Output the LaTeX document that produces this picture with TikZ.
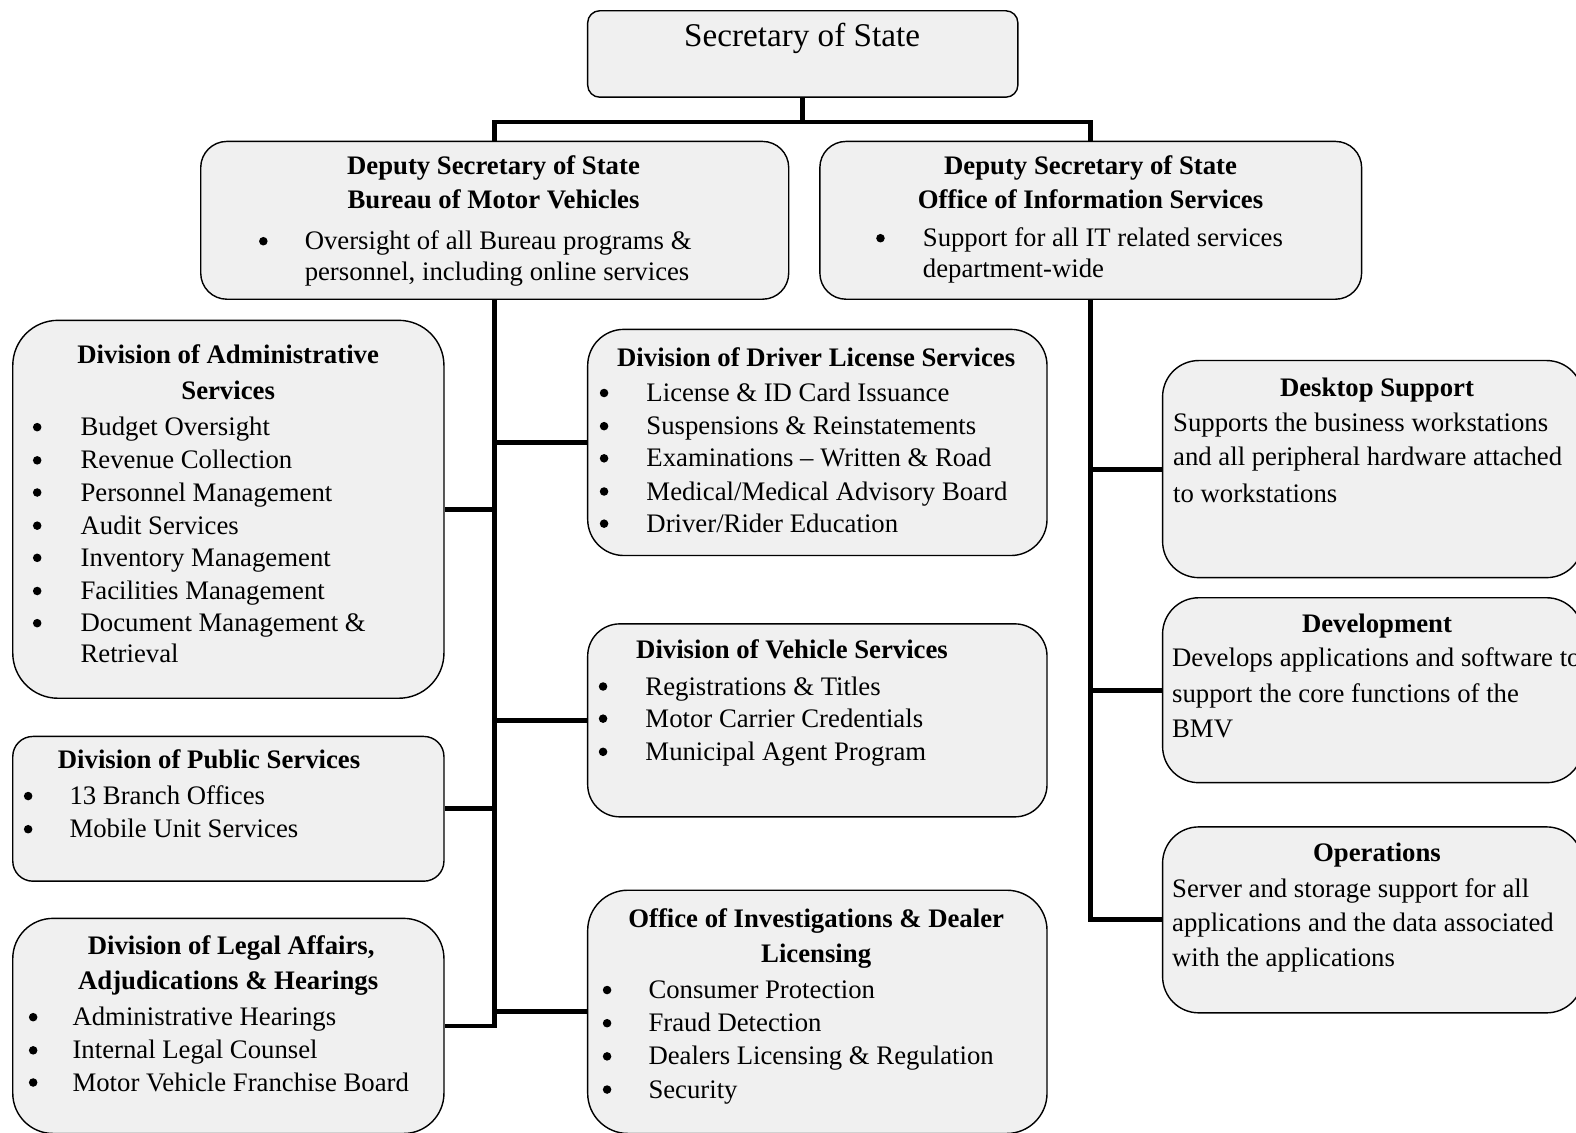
\documentclass[tikz,border=0pt]{standalone}
\usepackage{fontspec}
\setmainfont{Liberation Serif}
\definecolor{boxgray}{HTML}{F0F0F0}
\newcommand\bodyfont{\fontsize{26.6}{31}\selectfont}
\newcommand\boldfont{\fontsize{26.6}{31}\selectfont\bfseries}
\newcommand\sosfont{\fontsize{33}{38}\selectfont}
\newcommand\bitem[5]{\node[bul] (#1b) at (#2,#4) {}; \node[tx] (#1) at (#3,#4+8.5) {#5};}
\newcommand\pline[4]{\node[tx] (#1) at (#2,#3+8.5) {#4};}
\newcommand\tline[4]{\node[ttl] (#1) at (#2,#3+8.5) {#4};}
\begin{document}
\begin{tikzpicture}[x=1pt,y=-1pt,
  box/.style={draw, line width=1.4pt, fill=boxgray, anchor=north west, inner sep=0pt},
  conn/.style={line width=4.8pt},
  tx/.style={anchor=base west, inner sep=0pt, font=\bodyfont},
  bul/.style={circle, fill=black, inner sep=0pt, minimum size=8.5pt},
  ttl/.style={anchor=base, inner sep=0pt, font=\boldfont}]
\useasboundingbox (0,0) rectangle (1568,1127);
% boxes
\node[box, rounded corners=12pt, minimum width=428pt, minimum height=86pt] (sos) at (584,10) {};
\node[box, rounded corners=26pt, minimum width=585pt, minimum height=157pt] (bmv) at (199,140) {};
\node[box, rounded corners=26pt, minimum width=539pt, minimum height=157pt] (ois) at (815,140) {};
\node[box, rounded corners=45pt, minimum width=429pt, minimum height=376pt] (admin) at (12,318) {};
\node[box, rounded corners=20pt, minimum width=429pt, minimum height=144pt] (pub) at (12,732) {};
\node[box, rounded corners=40pt, minimum width=429pt, minimum height=214pt] (legal) at (12,913) {};
\node[box, rounded corners=36pt, minimum width=457pt, minimum height=225pt] (dls) at (584,327) {};
\node[box, rounded corners=32pt, minimum width=457pt, minimum height=192pt] (veh) at (584,620) {};
\node[box, rounded corners=40pt, minimum width=457pt, minimum height=242pt] (inv) at (584,885) {};
\node[box, rounded corners=36pt, minimum width=418pt, minimum height=216pt] (desk) at (1156,358) {};
\node[box, rounded corners=36pt, minimum width=418pt, minimum height=184pt] (dev) at (1156,594) {};
\node[box, rounded corners=36pt, minimum width=418pt, minimum height=185pt] (ops) at (1156,822) {};
% connectors
\draw[conn] (sos.south) -- ++(0,24) coordinate (j);
\draw[conn] (bmv.north) |- (j) -| (ois.north);
\draw[conn] (bmv.south) |- (legal.east);
\draw[conn] (bmv.south |- admin.east) -- (admin.east);
\draw[conn] (bmv.south |- pub.east) -- (pub.east);
\draw[conn] (bmv.south |- dls.west) -- (dls.west);
\draw[conn] (bmv.south |- veh.west) -- (veh.west);
\draw[conn] (bmv.south |- inv.west) -- (inv.west);
\draw[conn] (ois.south) |- (ops.west);
\draw[conn] (ois.south |- desk.west) -- (desk.west);
\draw[conn] (ois.south |- dev.west) -- (dev.west);
% texts
\node[anchor=base, inner sep=0pt, font=\sosfont] (sost) at (798,46) {Secretary of State};
\tline{bmv1}{491}{165}{Deputy Secretary of State}
\tline{bmv2}{491}{199}{Bureau of Motor Vehicles}
\bitem{bmv3}{262}{303}{240}{Oversight of all Bureau programs \&}
\pline{bmv4}{303}{271}{personnel, including online services}
\tline{ois1}{1085}{165}{Deputy Secretary of State}
\tline{ois2}{1085}{199}{Office of Information Services}
\bitem{ois3}{876}{918}{237}{Support for all IT related services}
\pline{ois4}{918}{268}{department-wide}
\tline{adm1}{227}{353}{Division of Administrative}
\tline{adm2}{227}{389}{Services}
\bitem{adm3}{37}{80}{425}{Budget Oversight}
\bitem{adm4}{37}{80}{458}{Revenue Collection}
\bitem{adm5}{37}{80}{490}{Personnel Management}
\bitem{adm6}{37}{80}{523}{Audit Services}
\bitem{adm7}{37}{80}{555}{Inventory Management}
\bitem{adm8}{37}{80}{588}{Facilities Management}
\bitem{adm9}{37}{80}{620}{Document Management \&}
\pline{adm10}{80}{651}{Retrieval}
\tline{pub1}{208}{756}{Division of Public Services}
\bitem{pub2}{28}{69}{792}{13 Branch Offices}
\bitem{pub3}{28}{69}{825}{Mobile Unit Services}
\tline{leg1}{230}{941}{Division of Legal Affairs,}
\tline{leg2}{227}{976}{Adjudications \& Hearings}
\bitem{leg3}{33}{72}{1012}{Administrative Hearings}
\bitem{leg4}{33}{72}{1045}{Internal Legal Counsel}
\bitem{leg5}{33}{72}{1077}{Motor Vehicle Franchise Board}
\tline{dls1}{812}{356}{Division of Driver License Services}
\bitem{dls2}{601}{643}{391}{License \& ID Card Issuance}
\bitem{dls3}{601}{643}{424}{Suspensions \& Reinstatements}
\bitem{dls4}{601}{643}{456}{Examinations – Written \& Road}
\bitem{dls5}{601}{643}{489}{Medical/Medical Advisory Board}
\bitem{dls6}{601}{643}{521}{Driver/Rider Education}
\tline{veh1}{788}{647}{Division of Vehicle Services}
\bitem{veh2}{600}{642}{683}{Registrations \& Titles}
\bitem{veh3}{600}{642}{715}{Motor Carrier Credentials}
\bitem{veh4}{600}{642}{748}{Municipal Agent Program}
\tline{inv1}{812}{914}{Office of Investigations \& Dealer}
\tline{inv2}{812}{949}{Licensing}
\bitem{inv3}{604}{645}{985}{Consumer Protection}
\bitem{inv4}{604}{645}{1018}{Fraud Detection}
\bitem{inv5}{604}{645}{1051}{Dealers Licensing \& Regulation}
\bitem{inv6}{604}{645}{1084}{Security}
\tline{desk1}{1370}{386}{Desktop Support}
\pline{desk2}{1167}{421}{Supports the business workstations}
\pline{desk3}{1167}{455}{and all peripheral hardware attached}
\pline{desk4}{1167}{491}{to workstations}
\tline{dev1}{1370}{621}{Development}
\pline{dev2}{1166}{655}{Develops applications and software to}
\pline{dev3}{1166}{690}{support the core functions of the}
\pline{dev4}{1166}{725}{BMV}
\tline{ops1}{1370}{849}{Operations}
\pline{ops2}{1166}{884}{Server and storage support for all}
\pline{ops3}{1166}{918}{applications and the data associated}
\pline{ops4}{1166}{953}{with the applications}
\end{tikzpicture}
\end{document}
